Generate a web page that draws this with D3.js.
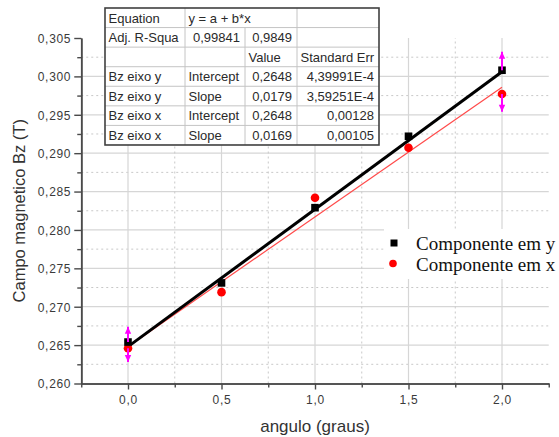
<!DOCTYPE html>
<html>
<head>
<meta charset="utf-8">
<script src="https://cdn.jsdelivr.net/npm/d3@7"></script>
<style>
  html, body { margin: 0; padding: 0; background: #fff; }
  svg { display: block; }
</style>
</head>
<body>
<svg id="chart" width="559" height="437"></svg>
<script>
// ---------- data ----------
const angles = [0.0, 0.5, 1.0, 1.5, 2.0];
const bzY = [0.2654, 0.2731, 0.2829, 0.2922, 0.3008];   // Componente em y
const bzX = [0.2646, 0.2719, 0.2842, 0.2907, 0.2977];   // Componente em x
const errY = [0.0020, 0, 0, 0, 0.0024];
const errX = [0.0018, 0, 0, 0, 0.0023];
const fitIntercepts = [0.2648, 0.2648];  // Bz eixo y, Bz eixo x
const fitSlopes = [0.0179, 0.0169];
const xTicks = [0.0, 0.5, 1.0, 1.5, 2.0];
const xMinorTicks = [-0.25, 0.25, 0.75, 1.25, 1.75, 2.25];
const yTicks = [0.260, 0.265, 0.270, 0.275, 0.280, 0.285, 0.290, 0.295, 0.300, 0.305];
const yMinorTicks = [0.2625, 0.2675, 0.2725, 0.2775, 0.2825, 0.2875, 0.2925, 0.2975, 0.3025];
const legendLabels = ["Componente em y", "Componente em x"];
const tableRows = [
  ["Equation", "y = a + b*x", null, ""],
  ["Adj. R-Squa", "0,99841", "0,9849", ""],
  ["", "", "Value", "Standard Err"],
  ["Bz eixo y", "Intercept", "0,2648", "4,39991E-4"],
  ["Bz eixo y", "Slope", "0,0179", "3,59251E-4"],
  ["Bz eixo x", "Intercept", "0,2648", "0,00128"],
  ["Bz eixo x", "Slope", "0,0169", "0,00105"]
];

// ---------- layout ----------
const svg = d3.select("#chart");
const x = d3.scaleLinear().domain([-0.25, 2.25]).range([81.25, 548.75]);
const y = d3.scaleLinear().domain([0.26, 0.305]).range([383.5, 38]);
const fmt = v => d3.format(".3f")(v).replace(".", ",");
const fmtX = v => d3.format(".1f")(v).replace(".", ",");
const axisColor = "#4a4a4a";

// grid
const grid = svg.append("g");
grid.selectAll(".hmin").data(yMinorTicks).join("line")
  .attr("x1", x(-0.25)).attr("x2", x(2.25))
  .attr("y1", d => y(d)).attr("y2", d => y(d))
  .attr("stroke", "#c8c8c8").attr("stroke-width", 1).attr("stroke-dasharray", "2,3");
grid.selectAll(".hmaj").data(yTicks.filter(d => d > 0.2601 && d < 0.3049)).join("line")
  .attr("x1", x(-0.25)).attr("x2", x(2.25))
  .attr("y1", d => y(d)).attr("y2", d => y(d))
  .attr("stroke", "#d6d6d6").attr("stroke-width", 1.2);
grid.selectAll(".vmin").data(xMinorTicks.filter(d => d > -0.2 && d < 2.2)).join("line")
  .attr("x1", d => x(d)).attr("x2", d => x(d))
  .attr("y1", y(0.26)).attr("y2", y(0.305))
  .attr("stroke", "#c8c8c8").attr("stroke-width", 1).attr("stroke-dasharray", "2,3");
grid.selectAll(".vmaj").data(xTicks).join("line")
  .attr("x1", d => x(d)).attr("x2", d => x(d))
  .attr("y1", y(0.26)).attr("y2", y(0.305))
  .attr("stroke", "#d6d6d6").attr("stroke-width", 1.2);

// axes
const yAxis = svg.append("g").attr("transform", `translate(${x(-0.25)},0)`)
  .call(d3.axisLeft(y).tickValues(yTicks).tickFormat(fmt).tickSize(7).tickSizeOuter(0));
const yMinor = svg.append("g").attr("transform", `translate(${x(-0.25)},0)`)
  .call(d3.axisLeft(y).tickValues(yMinorTicks).tickFormat("").tickSize(4).tickSizeOuter(0));
const xAxis = svg.append("g").attr("transform", `translate(0,${y(0.26)})`)
  .call(d3.axisBottom(x).tickValues(xTicks).tickFormat(fmtX).tickSize(6).tickSizeOuter(0));
const xMinor = svg.append("g").attr("transform", `translate(0,${y(0.26)})`)
  .call(d3.axisBottom(x).tickValues(xMinorTicks).tickFormat("").tickSize(4).tickSizeOuter(0));
[yAxis, yMinor, xAxis, xMinor].forEach(g => {
  g.select(".domain").attr("stroke", axisColor).attr("stroke-width", 1.6);
  g.selectAll(".tick line").attr("stroke", axisColor).attr("stroke-width", 1.4);
  g.selectAll(".tick text").attr("fill", "#3a3a3a")
    .style("font-family", "'Liberation Sans', Arial, sans-serif")
    .style("font-size", "12px").style("letter-spacing", "0.7px");
});
yAxis.selectAll(".tick text").attr("x", -10).attr("dy", "0.36em");
xAxis.selectAll(".tick text").attr("y", 12);

// axis titles
svg.append("text").attr("transform", `translate(25,${(y(0.26) + y(0.305)) / 2}) rotate(-90)`)
  .attr("text-anchor", "middle").attr("fill", "#333")
  .style("font-family", "'Liberation Sans', Arial, sans-serif").style("font-size", "16.5px")
  .text("Campo magnetico Bz (T)");
svg.append("text").attr("x", (x(-0.25) + x(2.25)) / 2).attr("y", 432)
  .attr("text-anchor", "middle").attr("fill", "#333")
  .style("font-family", "'Liberation Sans', Arial, sans-serif").style("font-size", "17px")
  .text("angulo (graus)");

// fit lines
const fitColors = ["#000000", "#ff4a4a"];
const fitWidths = [3, 1.2];
[1, 0].forEach(i => {
  const pts = [0, 2].map(a => [x(a), y(fitIntercepts[i] + fitSlopes[i] * a)]);
  svg.append("path").attr("d", d3.line()(pts))
    .attr("fill", "none").attr("stroke", fitColors[i]).attr("stroke-width", fitWidths[i]);
});

// markers
svg.append("g").selectAll("circle").data(angles).join("circle")
  .attr("cx", d => x(d)).attr("cy", (d, i) => y(bzX[i])).attr("r", 4.3).attr("fill", "#ff0000");
svg.append("g").selectAll("rect").data(angles).join("rect")
  .attr("x", d => x(d) - 3.8).attr("y", (d, i) => y(bzY[i]) - 3.8)
  .attr("width", 7.6).attr("height", 7.6).attr("fill", "#000");

// error bars (magenta)
function errBars(vals, errs, dir) {
  const g = svg.append("g");
  angles.forEach((a, i) => {
    if (!errs[i]) return;
    const cx = x(a), c = y(vals[i]), end = y(vals[i] + dir * errs[i]);
    g.append("line").attr("x1", cx).attr("x2", cx).attr("y1", c).attr("y2", end)
      .attr("stroke", "#ff00ff").attr("stroke-width", 2);
    const s = Math.sign(end - c);
    g.append("path")
      .attr("d", `M${cx - 3.2},${end - s * 7}L${cx},${end}L${cx + 3.2},${end - s * 7}Z`)
      .attr("fill", "#ff00ff");
  });
}
errBars(bzY, errY, 1);
errBars(bzX, errX, -1);

// legend
const lg = svg.append("g");
lg.append("rect").attr("x", 384).attr("y", 229).attr("width", 166).attr("height", 50).attr("fill", "#fff");
lg.append("rect").attr("x", 390.5).attr("y", 239.5).attr("width", 7).attr("height", 7).attr("fill", "#000");
lg.append("circle").attr("cx", 393).attr("cy", 263.5).attr("r", 3.8).attr("fill", "#ff0000");
lg.selectAll("text").data(legendLabels).join("text")
  .attr("x", 416).attr("y", (d, i) => 249.5 + i * 21)
  .attr("fill", "#111").style("font-family", "'Liberation Serif', 'Times New Roman', serif")
  .style("font-size", "19px").text(d => d);

// table
const colX = [105, 185, 245, 297, 379];
const rowTop = 8, rowH = 19.57;
const numeric = s => /^[0-9]/.test(s);
const tg = svg.append("g");
tg.append("rect").attr("x", colX[0]).attr("y", rowTop).attr("width", colX[4] - colX[0])
  .attr("height", rowH * tableRows.length).attr("fill", "#fff");
// inner horizontal lines
tg.selectAll(".rl").data(d3.range(1, tableRows.length)).join("line")
  .attr("x1", colX[0]).attr("x2", colX[4])
  .attr("y1", d => rowTop + d * rowH).attr("y2", d => rowTop + d * rowH)
  .attr("stroke", "#c4c4c4").attr("stroke-width", 1);
// inner vertical lines and cell texts
tableRows.forEach((row, r) => {
  [1, 2, 3].forEach(c => {
    if (c === 2 && row[2] === null) return;
    tg.append("line").attr("x1", colX[c]).attr("x2", colX[c])
      .attr("y1", rowTop + r * rowH).attr("y2", rowTop + (r + 1) * rowH)
      .attr("stroke", "#c4c4c4").attr("stroke-width", 1);
  });
  row.forEach((cell, c) => {
    if (cell === null || cell === "") return;
    const isNum = numeric(cell) && c > 0;
    tg.append("text")
      .attr("x", isNum ? colX[c + 1] - 5 : colX[c] + 3.5)
      .attr("y", rowTop + r * rowH + 14.5)
      .attr("text-anchor", isNum ? "end" : "start")
      .attr("fill", "#2a2a2a")
      .style("font-family", "'Liberation Sans', Arial, sans-serif").style("font-size", "13px")
      .text(cell);
  });
});
tg.append("rect").attr("x", colX[0]).attr("y", rowTop).attr("width", colX[4] - colX[0])
  .attr("height", rowH * tableRows.length).attr("fill", "none")
  .attr("stroke", "#404040").attr("stroke-width", 1.6);
</script>
</body>
</html>
